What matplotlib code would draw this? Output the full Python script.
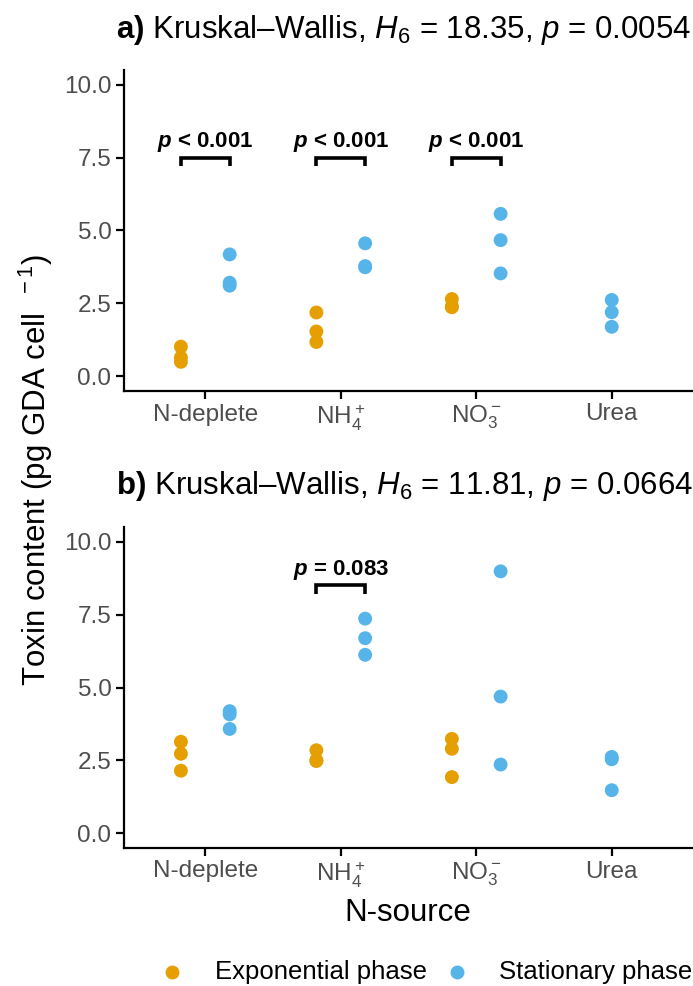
import matplotlib
matplotlib.use("Agg")
import matplotlib.pyplot as plt
from matplotlib.lines import Line2D

FONT = "Liberation Sans"
plt.rcParams['font.family'] = [FONT, 'DejaVu Sans']
plt.rcParams['mathtext.fontset'] = 'custom'
plt.rcParams['mathtext.rm'] = FONT
plt.rcParams['mathtext.it'] = FONT + ':italic'
plt.rcParams['mathtext.bf'] = FONT + ':bold'
plt.rcParams['mathtext.bfit'] = FONT + ':bold:italic'

categories = ["N-deplete", "NH$_4^+$", "NO$_3^-$", "Urea"]
phases = ["Exponential phase", "Stationary phase"]
colors = {"Exponential phase": "#E69F00", "Stationary phase": "#56B4E9"}

# Panel a values
a_exp = {0: [1.02, 0.65, 0.50], 1: [2.19, 1.54, 1.18], 2: [2.65, 2.40, 2.37]}
a_sta = {0: [4.18, 3.21, 3.11], 1: [4.56, 3.78, 3.74], 2: [5.57, 4.67, 3.53], 3: [2.62, 2.20, 1.70]}
# Panel b values
b_exp = {0: [3.14, 2.73, 2.15], 1: [2.85, 2.51, 2.48], 2: [3.24, 2.90, 1.93]}
b_sta = {0: [4.19, 4.08, 3.58], 1: [7.36, 6.69, 6.12], 2: [8.98, 4.69, 2.36], 3: [2.62, 2.54, 1.48]}

a_title = r"$\mathbf{a)}$ Kruskal–Wallis, $H_6$ = 18.35, $p$ = 0.0054"
b_title = r"$\mathbf{b)}$ Kruskal–Wallis, $H_6$ = 11.81, $p$ = 0.0664"
a_brackets = [(0, 7.5, r"$\mathbfit{p}$ < 0.001"), (1, 7.5, r"$\mathbfit{p}$ < 0.001"), (2, 7.5, r"$\mathbfit{p}$ < 0.001")]
b_brackets = [(1, 8.5, r"$\mathbfit{p}$ = 0.083")]

yticks = [0.0, 2.5, 5.0, 7.5, 10.0]
ytick_labels = ["0.0", "2.5", "5.0", "7.5", "10.0"]

W, H = 693, 986
fig = plt.figure(figsize=(W/100, H/100), dpi=100)

def px_axes(left, top, right, bottom):
    return fig.add_axes([left/W, 1-bottom/H, (right-left)/W, (bottom-top)/H])

dodge = 0.18

def draw(ax, exp, sta, brackets, title, title_y):
    for i in range(len(categories)):
        if i in exp:
            ax.scatter([i+1-dodge]*len(exp[i]), exp[i], s=100, color=colors[phases[0]], edgecolors='none', zorder=3)
            xs = i+1+dodge
        else:
            xs = i+1
        ax.scatter([xs]*len(sta[i]), sta[i], s=100, color=colors[phases[1]], edgecolors='none', zorder=3)
    for i, yb, lab in brackets:
        x0, x1 = i+1-dodge, i+1+dodge
        ax.plot([x0, x0, x1, x1], [yb-0.3, yb, yb, yb-0.3], color='black', lw=2.6,
                solid_capstyle='butt', solid_joinstyle='miter')
        ax.text(i+1, yb+0.36, lab, ha='center', va='baseline', fontsize=16, fontweight='bold')
    ax.set_xlim(0.4, 4.6)
    ax.set_ylim(-0.5, 10.5)
    ax.set_yticks(yticks)
    ax.set_yticklabels(ytick_labels)
    ax.set_xticks(range(1, len(categories)+1))
    ax.set_xticklabels(categories)
    for s in ['top', 'right']:
        ax.spines[s].set_visible(False)
    for s in ['left', 'bottom']:
        ax.spines[s].set_linewidth(1.6)
    ax.tick_params(axis='both', length=5.5, width=1.6, labelsize=17.5, labelcolor='#4D4D4D', pad=3.5)
    fig.text(116/W, 1-title_y/H, title, fontsize=22.5, ha='left', va='center')

ax1 = px_axes(124, 70, 693, 391)
ax2 = px_axes(124, 527, 693, 848)
draw(ax1, a_exp, a_sta, a_brackets, a_title, 30)
draw(ax2, b_exp, b_sta, b_brackets, b_title, 486)

fig.text(36/W, 1-470/H, r"Toxin content (pg GDA cell $^{\ -1}$)", rotation=90, fontsize=22.5,
         ha='center', va='center')
fig.text(408/W, 1-913/H, "N-source", fontsize=22.5, ha='center', va='center')

# legend (bottom)
leg_y = 1 - 972/H
for mx, tx, ph in [(172, 215, phases[0]), (457, 499, phases[1])]:
    fig.add_artist(Line2D([mx/W], [leg_y], transform=fig.transFigure, marker='o', ls='none',
                          color=colors[ph], markersize=10, markeredgewidth=0))
    fig.text(tx/W, leg_y, ph, fontsize=18.5, ha='left', va='center')

fig.savefig("out.png", dpi=100)
